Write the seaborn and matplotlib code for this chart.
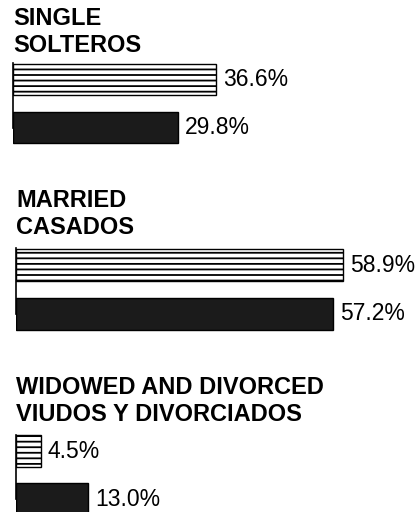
import pandas as pd
import matplotlib
matplotlib.use("Agg")
import matplotlib.pyplot as plt
import seaborn as sns

# 数据
categories = ["SINGLE\nSOLTEROS", "MARRIED\nCASADOS",
              "WIDOWED AND DIVORCED\nVIUDOS Y DIVORCIADOS"]
series = ["Serie 1", "Serie 2"]
values_top = [36.6, 58.9, 4.5]
values_bottom = [29.8, 57.2, 13.0]

sns.set_theme(style="white")
plt.rcParams['font.family'] = ['Liberation Sans', 'DejaVu Sans']
plt.rcParams['hatch.linewidth'] = 1.3
plt.rcParams['text.color'] = 'black'

W, H = 418, 512
fig = plt.figure(figsize=(W / 100, H / 100), dpi=100)

# 每个面板的位置（像素）：左边, 轴顶, 轴底, 标题顶
panels = [(13, 55.5, 151.5, 7), (16, 240.5, 338.5, 189), (16, 427, 523, 376)]
px_per_unit = 5.55

for cat, v1, v2, (left, top, bottom, ttop) in zip(categories, values_top, values_bottom, panels):
    ax = fig.add_axes([left / W, 1 - bottom / H, (W - left) / W, (bottom - top) / H])
    df = pd.DataFrame({"series": series, "value": [v1, v2]})
    sns.barplot(data=df, x="value", y="series", hue="series", orient="h",
                palette=["white", "#1b1b1b"], width=0.66, legend=False,
                edgecolor="black", linewidth=1.0, ax=ax)
    ax.patches[0].set_hatch("---")
    for cont in ax.containers:
        ax.bar_label(cont, fmt="%.1f%%", padding=5, fontsize=16.5, color="black")
    ax.set_xlim(0, (W - left) / px_per_unit)
    ax.set_ylim(1.5, -0.5)
    ax.set_xlabel("")
    ax.set_ylabel("")
    ax.set_xticks([])
    ax.set_yticks([])
    for s in ["top", "right", "bottom"]:
        ax.spines[s].set_visible(False)
    ax.spines["left"].set_color("black")
    ax.spines["left"].set_linewidth(1.2)
    ax.spines["left"].set_bounds(-0.34, 1.0)
    ax.patch.set_alpha(0)
    fig.text(left / W, 1 - ttop / H, cat, fontsize=17, fontweight="bold",
             va="top", ha="left", linespacing=1.22, color="black")

plt.savefig("out.png", dpi=100)
